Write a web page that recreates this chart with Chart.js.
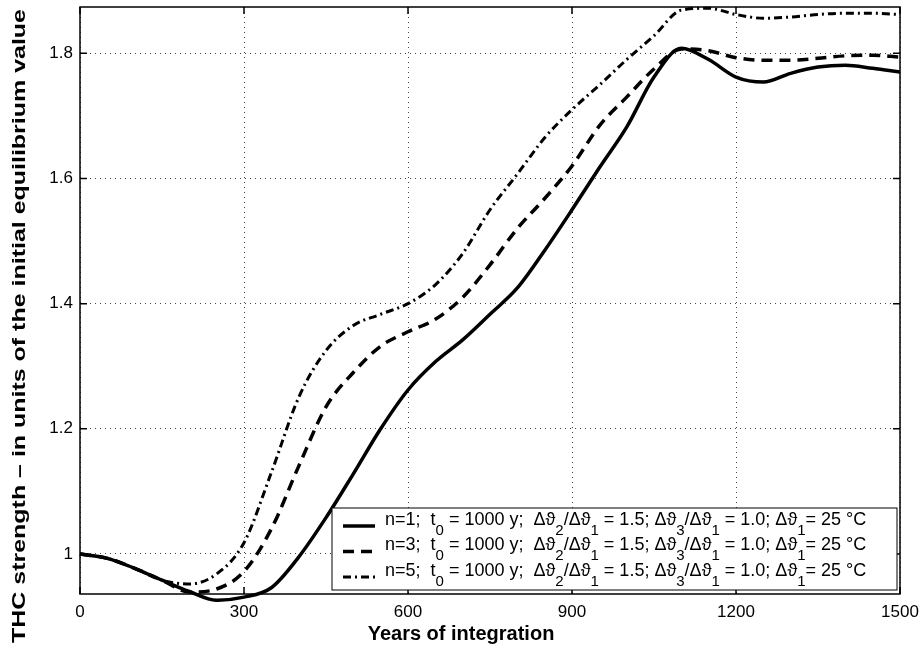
<!DOCTYPE html>
<html>
<head>
<meta charset="utf-8">
<script src="https://cdn.jsdelivr.net/npm/chart.js@4/dist/chart.umd.min.js"></script>
<style>
    body { margin: 0; background: #fff; }
    #wrap { width: 923px; height: 655px; }
</style>
</head>
<body>
<div id="wrap"><canvas id="thc" width="923" height="655"></canvas></div>
<script>
const years = [0, 50, 100, 150, 200, 250, 300, 350, 400, 450, 500, 550, 600, 650, 700, 750,
    800, 850, 900, 950, 1000, 1050, 1100, 1150, 1200, 1250, 1300, 1350, 1400, 1450, 1500];

const n1Values = [1.0, 0.993, 0.977, 0.958, 0.940, 0.926, 0.931, 0.946, 0.995, 1.058, 1.128, 1.200,
    1.262, 1.307, 1.342, 1.383, 1.425, 1.485, 1.550, 1.617, 1.682, 1.762, 1.808, 1.790, 1.762,
    1.754, 1.768, 1.778, 1.781, 1.776, 1.770];

const n3Values = [1.0, 0.993, 0.977, 0.958, 0.939, 0.944, 0.972, 1.040, 1.140, 1.235, 1.290, 1.332,
    1.355, 1.375, 1.410, 1.462, 1.520, 1.568, 1.620, 1.684, 1.730, 1.775, 1.807, 1.804, 1.793,
    1.789, 1.789, 1.792, 1.796, 1.797, 1.794];

const n5Values = [1.0, 0.993, 0.977, 0.958, 0.952, 0.968, 1.018, 1.130, 1.250, 1.325, 1.365, 1.383,
    1.400, 1.430, 1.480, 1.550, 1.607, 1.665, 1.710, 1.749, 1.790, 1.828, 1.869, 1.872, 1.862,
    1.856, 1.858, 1.862, 1.864, 1.864, 1.862];

const xTicks = [0, 300, 600, 900, 1200, 1500];
const yTicks = [1, 1.2, 1.4, 1.6, 1.8];

// "_x" marks a one-character subscript
const seriesLabels = [
    "n=1;  t_0 = 1000 y;  Δϑ_2/Δϑ_1 = 1.5; Δϑ_3/Δϑ_1 = 1.0; Δϑ_1= 25 °C",
    "n=3;  t_0 = 1000 y;  Δϑ_2/Δϑ_1 = 1.5; Δϑ_3/Δϑ_1 = 1.0; Δϑ_1= 25 °C",
    "n=5;  t_0 = 1000 y;  Δϑ_2/Δϑ_1 = 1.5; Δϑ_3/Δϑ_1 = 1.0; Δϑ_1= 25 °C"
];

const xTitle = "Years of integration";
const yTitle = "THC strength – in units of the initial equilibrium value";

const FONT = "'Liberation Sans', Arial, Helvetica, sans-serif";

function drawRich(ctx, text, x, y, size) {
    let cx = x;
    for (let i = 0; i < text.length; i++) {
        if (text[i] === "_" && i + 1 < text.length) {
            ctx.font = `${Math.round(size * 0.85)}px ${FONT}`;
            ctx.fillText(text[i + 1], cx, y + size * 0.6);
            cx += ctx.measureText(text[i + 1]).width;
            i++;
        } else {
            ctx.font = `${size}px ${FONT}`;
            ctx.fillText(text[i], cx, y);
            cx += ctx.measureText(text[i]).width;
        }
    }
}

const frameAndLegend = {
    id: "frameAndLegend",
    afterDraw(chart) {
        const ctx = chart.ctx;
        const a = chart.chartArea;
        const xs = chart.scales.x;
        const ys = chart.scales.y;

        ctx.save();
        ctx.strokeStyle = "#000";
        ctx.lineWidth = 1.5;
        ctx.setLineDash([]);
        ctx.strokeRect(a.left, a.top, a.right - a.left, a.bottom - a.top);

        // inward ticks on all four sides
        ctx.beginPath();
        xTicks.forEach(v => {
            const px = xs.getPixelForValue(v);
            ctx.moveTo(px, a.bottom); ctx.lineTo(px, a.bottom - 7);
            ctx.moveTo(px, a.top); ctx.lineTo(px, a.top + 7);
        });
        yTicks.forEach(v => {
            const py = ys.getPixelForValue(v);
            ctx.moveTo(a.left, py); ctx.lineTo(a.left + 7, py);
            ctx.moveTo(a.right, py); ctx.lineTo(a.right - 7, py);
        });
        ctx.stroke();

        // legend box
        const bl = a.left + 252, bt = a.bottom - 86;
        const br = a.right - 3, bb = a.bottom - 4;
        ctx.fillStyle = "#fff";
        ctx.fillRect(bl, bt, br - bl, bb - bt);
        ctx.lineWidth = 1;
        ctx.strokeRect(bl, bt, br - bl, bb - bt);

        chart.data.datasets.forEach((ds, i) => {
            const ry = bt + 12 + i * 25.5;
            ctx.beginPath();
            ctx.setLineDash(ds.borderDash || []);
            ctx.lineWidth = ds.borderWidth;
            ctx.strokeStyle = "#000";
            ctx.moveTo(bl + 11, ry + 6);
            ctx.lineTo(bl + 43, ry + 6);
            ctx.stroke();
            ctx.setLineDash([]);
            ctx.fillStyle = "#000";
            ctx.textBaseline = "middle";
            ctx.textAlign = "left";
            drawRich(ctx, seriesLabels[i], bl + 53, ry, 18);
        });

        // axis titles
        ctx.fillStyle = "#000";
        ctx.textAlign = "center";
        ctx.textBaseline = "middle";
        ctx.font = `bold 20px ${FONT}`;
        ctx.fillText(xTitle, 461, 634);

        ctx.font = `bold 19px ${FONT}`;
        const stretch = 634 / ctx.measureText(yTitle).width;
        ctx.translate(20, 326);
        ctx.rotate(-Math.PI / 2);
        ctx.scale(stretch, 1);
        ctx.fillText(yTitle, 0, 0);
        ctx.restore();
    }
};

function series(values, width, dash) {
    return {
        data: years.map((t, i) => ({ x: t, y: values[i] })),
        borderColor: "#000",
        borderWidth: width,
        borderDash: dash,
        pointRadius: 0,
        fill: false,
        cubicInterpolationMode: "monotone",
        clip: 8
    };
}

new Chart(document.getElementById("thc"), {
    type: "line",
    data: {
        datasets: [
            series(n1Values, 3.5, []),
            series(n3Values, 3.5, [11, 7]),
            series(n5Values, 3, [8, 4, 2, 4])
        ]
    },
    options: {
        responsive: false,
        animation: false,
        layout: { padding: { top: 7, right: 23, left: 0, bottom: 0 } },
        plugins: {
            legend: { display: false },
            tooltip: { enabled: false }
        },
        scales: {
            x: {
                type: "linear",
                min: 0,
                max: 1500,
                afterBuildTicks: s => { s.ticks = xTicks.map(v => ({ value: v })); },
                afterFit: s => {
                    s.height = 61;
                    s.paddingLeft = 0;
                    s.paddingRight = 0;
                },
                ticks: {
                    color: "#000",
                    font: { family: FONT, size: 17 },
                    padding: 8,
                    maxRotation: 0,
                    callback: v => String(v)
                },
                grid: { color: "#444", lineWidth: 1, drawTicks: false },
                border: { display: false, dash: [1, 4] }
            },
            y: {
                type: "linear",
                min: 0.936,
                max: 1.874,
                afterBuildTicks: s => { s.ticks = yTicks.map(v => ({ value: v })); },
                afterFit: s => {
                    s.width = 80;
                    s.paddingTop = 0;
                    s.paddingBottom = 0;
                },
                ticks: {
                    color: "#000",
                    font: { family: FONT, size: 17 },
                    padding: 7,
                    callback: v => String(v)
                },
                grid: { color: "#444", lineWidth: 1, drawTicks: false },
                border: { display: false, dash: [1, 4] }
            }
        }
    },
    plugins: [frameAndLegend]
});
</script>
</body>
</html>
